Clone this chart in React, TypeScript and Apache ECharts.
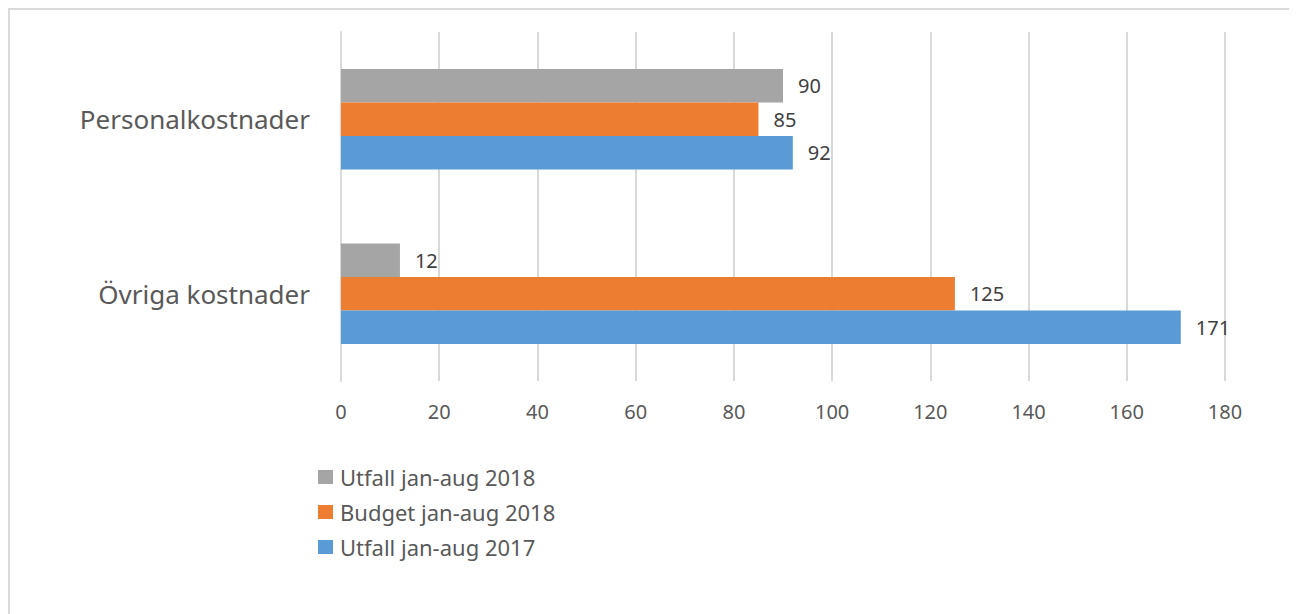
import React, { useEffect, useRef } from "react";
import * as echarts from "echarts";

const categories = ["Övriga kostnader", "Personalkostnader"];
const seriesNames = ["Utfall jan-aug 2018", "Budget jan-aug 2018", "Utfall jan-aug 2017"];
const utfall2018 = [12, 90];
const budget2018 = [125, 85];
const utfall2017 = [171, 92];
const seriesColors = ["#A5A5A5", "#ED7D31", "#5B9BD5"];
const xMin = 0;
const xMax = 180;
const xInterval = 20;

const FONT = "Noto Sans";

export default function App() {
  const ref = useRef<HTMLDivElement>(null);
  useEffect(() => {
    document.documentElement.style.overflow = "hidden";
    const chart = echarts.init(ref.current!, null, { renderer: "svg" });
    const values = [utfall2018, budget2018, utfall2017];
    chart.setOption({
      animation: false,
      textStyle: { fontFamily: FONT },
      graphic: [
        { type: "line", shape: { x1: 1, y1: 0, x2: 1, y2: 620 }, style: { stroke: "#d9d9d9", lineWidth: 2 } },
        { type: "line", shape: { x1: 0, y1: 1, x2: 1300, y2: 1 }, style: { stroke: "#d9d9d9", lineWidth: 2 } },
      ],
      grid: { left: 333, top: 24, width: 884, height: 349, containLabel: false },
      legend: {
        orient: "vertical",
        left: 305,
        top: 453,
        data: seriesNames,
        itemWidth: 15,
        itemHeight: 14,
        itemGap: 13,
        icon: "rect",
        textStyle: { fontSize: 22, color: "#595959", fontFamily: FONT, padding: [0, 0, 0, 2] },
      },
      xAxis: {
        type: "value",
        min: xMin,
        max: xMax,
        interval: xInterval,
        axisLine: { show: false },
        axisTick: { show: false },
        splitLine: { lineStyle: { color: "#d9d9d9", width: 2 } },
        axisLabel: { fontSize: 20, color: "#595959", margin: 20, fontFamily: FONT },
      },
      yAxis: {
        type: "category",
        data: categories,
        axisLine: { show: true, lineStyle: { color: "#d9d9d9", width: 2 } },
        axisTick: { show: false },
        axisLabel: { fontSize: 26, color: "#595959", margin: 31, fontFamily: FONT },
      },
      series: seriesNames.map((name, i) => ({
        name,
        type: "bar",
        data: values[i],
        barWidth: 33.5,
        barGap: "0%",
        itemStyle: { color: seriesColors[i] },
        label: {
          show: true,
          position: "right",
          distance: 15,
          fontSize: 20,
          color: "#404040",
          fontFamily: FONT,
        },
      })),
    });
    return () => chart.dispose();
  }, []);
  return <div ref={ref} style={{ width: 1289, height: 606 }} />;
}
